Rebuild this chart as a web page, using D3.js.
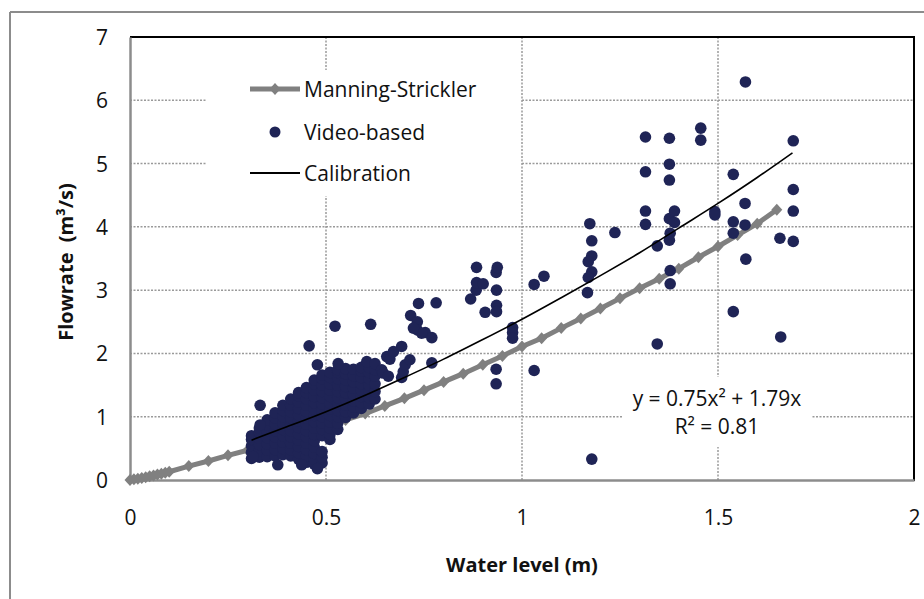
<!DOCTYPE html>
<html>
<head>
<meta charset="utf-8">
<script src="https://cdn.jsdelivr.net/npm/d3@7"></script>
<style>
  html, body { margin: 0; padding: 0; background: #fff; }
  svg { display: block; font-family: "Open Sans", sans-serif; }
</style>
</head>
<body>
<svg id="chart" width="924" height="599"></svg>
<script>
// ---------- data ----------
const xTicks = [0, 0.5, 1, 1.5, 2];
const xTickLabels = ["0", "0.5", "1", "1.5", "2"];
const yTicks = [0, 1, 2, 3, 4, 5, 6, 7];
const yTickLabels = ["0", "1", "2", "3", "4", "5", "6", "7"];

// Manning-Strickler rating curve (water level m, flowrate m3/s)
const manningH = [0, 0.01, 0.02, 0.03, 0.04, 0.05, 0.06, 0.07, 0.08, 0.09, 0.1,
  0.15, 0.2, 0.25, 0.3, 0.35, 0.4, 0.45, 0.5, 0.55, 0.6, 0.65, 0.7, 0.75, 0.8, 0.85,
  0.9, 0.95, 1.0, 1.05, 1.1, 1.15, 1.2, 1.25, 1.3, 1.35, 1.4, 1.45, 1.5, 1.55, 1.6, 1.65];
const manningQ = [0, 0.01, 0.02, 0.03, 0.045, 0.06, 0.07, 0.085, 0.1, 0.115, 0.13,
  0.22, 0.30, 0.39, 0.47, 0.56, 0.66, 0.76, 0.85, 0.95, 1.05, 1.17, 1.29, 1.42, 1.55, 1.68,
  1.82, 1.96, 2.11, 2.24, 2.40, 2.55, 2.71, 2.87, 3.03, 3.18, 3.34, 3.52, 3.69, 3.87, 4.05, 4.27];

// Calibration curve (y = 0.75x^2 + 1.79x)
const calibH = [0.31, 0.4, 0.5, 0.6, 0.7, 0.8, 0.9, 1.0, 1.1, 1.2, 1.3, 1.4, 1.5, 1.6, 1.69];
const calibQ = [0.63, 0.84, 1.08, 1.34, 1.62, 1.91, 2.22, 2.54, 2.88, 3.23, 3.59, 3.98, 4.37, 4.78, 5.17];

// Video-based measurements: dense core (columns of water level with flowrates)
const coreH = [0.31, 0.33, 0.35, 0.37, 0.39, 0.41, 0.43, 0.45, 0.47, 0.49, 0.51, 0.53, 0.55, 0.57, 0.59, 0.61, 0.625];
const coreQ = [
  [0.34, 0.44, 0.54, 0.64, 0.70],
  [0.36, 0.46, 0.56, 0.66, 0.76, 0.82],
  [0.37, 0.47, 0.57, 0.67, 0.77, 0.87, 0.95],
  [0.38, 0.48, 0.58, 0.68, 0.78, 0.88, 0.98, 1.06],
  [0.40, 0.50, 0.60, 0.70, 0.80, 0.90, 1.00, 1.10, 1.18],
  [0.38, 0.48, 0.58, 0.68, 0.78, 0.88, 0.98, 1.08, 1.18, 1.28],
  [0.33, 0.43, 0.53, 0.63, 0.73, 0.83, 0.93, 1.03, 1.13, 1.23, 1.33, 1.38],
  [0.28, 0.38, 0.48, 0.58, 0.68, 0.78, 0.88, 0.98, 1.08, 1.18, 1.28, 1.38, 1.46],
  [0.25, 0.33, 0.42, 0.52, 0.62, 0.72, 0.82, 0.92, 1.02, 1.12, 1.22, 1.32, 1.42, 1.52, 1.58],
  [0.27, 0.36, 0.45, 0.70, 0.80, 0.90, 1.00, 1.10, 1.20, 1.30, 1.40, 1.50, 1.60, 1.66],
  [0.64, 0.72, 0.82, 0.92, 1.02, 1.12, 1.22, 1.32, 1.42, 1.52, 1.62, 1.70],
  [0.80, 0.90, 1.00, 1.10, 1.20, 1.30, 1.40, 1.50, 1.60, 1.70, 1.74],
  [0.99, 1.08, 1.18, 1.28, 1.38, 1.48, 1.58, 1.68, 1.76],
  [1.06, 1.15, 1.25, 1.35, 1.45, 1.55, 1.65, 1.75],
  [1.13, 1.22, 1.32, 1.42, 1.52, 1.62, 1.72, 1.78],
  [1.20, 1.30, 1.40, 1.50, 1.60, 1.70, 1.78],
  [1.28, 1.40, 1.52, 1.64, 1.74]
];

// Video-based measurements: scattered points [water level, flowrate]
const scatterPts = [
  [0.523, 2.43], [0.614, 2.46], [0.457, 2.12], [0.332, 1.18], [0.332, 0.87],
  [0.377, 0.24], [0.438, 0.24], [0.478, 0.18], [0.314, 0.37],
  [0.531, 1.84], [0.478, 1.82], [0.604, 1.87], [0.625, 1.84], [0.642, 1.74],
  [0.646, 1.69], [0.659, 1.64], [0.655, 1.95], [0.663, 1.91], [0.672, 2.03],
  [0.693, 2.11], [0.693, 1.62], [0.697, 1.71], [0.702, 1.82], [0.714, 1.90],
  [0.716, 2.60], [0.733, 2.50], [0.733, 2.37], [0.736, 2.79], [0.753, 2.33],
  [0.770, 2.25], [0.770, 1.85], [0.781, 2.80], [0.744, 2.32], [0.723, 2.40],
  [0.869, 2.86], [0.883, 3.00], [0.884, 3.12], [0.884, 3.36], [0.901, 3.10],
  [0.906, 2.65], [0.934, 3.28], [0.937, 3.36], [0.935, 3.00], [0.935, 2.76],
  [0.935, 2.66], [0.934, 1.75], [0.934, 1.52],
  [0.976, 2.41], [0.976, 2.33], [0.976, 2.24], [1.031, 3.09], [1.056, 3.22], [1.031, 1.73],
  [1.173, 4.05], [1.178, 3.78], [1.178, 3.54], [1.169, 3.45], [1.178, 3.29],
  [1.169, 3.20], [1.167, 2.96], [1.237, 3.91], [1.178, 0.33],
  [1.315, 5.42], [1.315, 4.87], [1.315, 4.25], [1.315, 4.04], [1.376, 5.40],
  [1.376, 4.99], [1.376, 4.74], [1.376, 4.13], [1.389, 4.25], [1.389, 4.07],
  [1.378, 3.90], [1.376, 3.79], [1.345, 3.70], [1.378, 3.31], [1.378, 3.10], [1.345, 2.15],
  [1.456, 5.56], [1.456, 5.37], [1.492, 4.24], [1.492, 4.19], [1.539, 4.83],
  [1.539, 4.08], [1.539, 3.90], [1.539, 2.66], [1.570, 6.29], [1.569, 4.37],
  [1.569, 4.03], [1.571, 3.49], [1.658, 3.82], [1.660, 2.26], [1.692, 5.36],
  [1.692, 4.59], [1.692, 4.25], [1.692, 3.77]
];

const legendLabels = ["Manning-Strickler", "Video-based", "Calibration"];
const equationLines = ["y = 0.75x\u00B2 + 1.79x", "R\u00B2 = 0.81"];

// ---------- drawing ----------
const svg = d3.select("#chart");
const x = d3.scaleLinear().domain([0, 2]).range([130, 914]);
const y = d3.scaleLinear().domain([0, 7]).range([480, 37]);

const gridColor = "#9a9a9a";
const axisGray = "#8c8c8c";
const dotColor = "#1f2456";
const msColor = "#808080";

// outer chart border (cropped)
svg.append("line").attr("x1", 10).attr("x2", 930).attr("y1", 12).attr("y2", 12)
  .attr("stroke", axisGray).attr("stroke-width", 2);
svg.append("line").attr("x1", 10).attr("x2", 10).attr("y1", 12).attr("y2", 610)
  .attr("stroke", axisGray).attr("stroke-width", 2);

// gridlines
const grid = svg.append("g");
grid.selectAll(".hg").data(yTicks.filter(t => t > 0 && t < 7)).join("line")
  .attr("x1", x(0)).attr("x2", x(2)).attr("y1", d => y(d)).attr("y2", d => y(d))
  .attr("stroke", gridColor).attr("stroke-width", 1.5).attr("stroke-dasharray", "2,1.5");
grid.selectAll(".vg").data(xTicks.filter(t => t > 0 && t < 2)).join("line")
  .attr("x1", d => x(d)).attr("x2", d => x(d)).attr("y1", y(7)).attr("y2", y(0))
  .attr("stroke", gridColor).attr("stroke-width", 1.5).attr("stroke-dasharray", "2,1.5");

// plot border: top/right black, left/bottom gray axes
svg.append("line").attr("x1", x(0)).attr("x2", x(2) + 1).attr("y1", y(7)).attr("y2", y(7))
  .attr("stroke", "#000").attr("stroke-width", 2);
svg.append("line").attr("x1", x(2)).attr("x2", x(2)).attr("y1", y(7)).attr("y2", y(0) + 1)
  .attr("stroke", "#000").attr("stroke-width", 2);

// axes
const xAxis = d3.axisBottom(x).tickValues(xTicks).tickFormat((d, i) => xTickLabels[i]).tickSize(0).tickPadding(30);
const yAxis = d3.axisLeft(y).tickValues(yTicks).tickFormat((d, i) => yTickLabels[i]).tickSize(0).tickPadding(22);
const gx = svg.append("g").attr("transform", `translate(0,${y(0)})`).call(xAxis);
const gy = svg.append("g").attr("transform", `translate(${x(0)},0)`).call(yAxis);
[gx, gy].forEach(g => {
  g.select(".domain").attr("stroke", axisGray).attr("stroke-width", 2.5);
  g.selectAll("text").attr("font-family", "Open Sans").attr("font-size", 21).attr("fill", "#111");
});
gy.selectAll("text").attr("dy", "0.36em");

// Manning-Strickler line
const manning = manningH.map((h, i) => [h, manningQ[i]]);
svg.append("path").datum(manning)
  .attr("d", d3.line().x(d => x(d[0])).y(d => y(d[1])))
  .attr("fill", "none").attr("stroke", msColor).attr("stroke-width", 5);
const diamond = "M0,-6L5.5,0L0,6L-5.5,0Z";
svg.append("g").selectAll("path").data(manning).join("path")
  .attr("d", diamond).attr("fill", msColor)
  .attr("transform", d => `translate(${x(d[0])},${y(d[1])})`);

// video-based points
const corePts = coreH.flatMap((h, i) => coreQ[i].map(q => [h, q]));
const allPts = corePts.concat(scatterPts);
svg.append("g").selectAll("circle").data(allPts).join("circle")
  .attr("cx", d => x(d[0])).attr("cy", d => y(d[1])).attr("r", 5.8)
  .attr("fill", dotColor);

// calibration curve
const calib = calibH.map((h, i) => [h, calibQ[i]]);
svg.append("path").datum(calib)
  .attr("d", d3.line().curve(d3.curveMonotoneX).x(d => x(d[0])).y(d => y(d[1])))
  .attr("fill", "none").attr("stroke", "#000").attr("stroke-width", 1.6);

// legend
const lg = svg.append("g");
lg.append("rect").attr("x", 207).attr("y", 70).attr("width", 314).attr("height", 126).attr("fill", "#fff");
const legY = [89, 132, 173];
lg.append("line").attr("x1", 250).attr("x2", 300).attr("y1", legY[0]).attr("y2", legY[0])
  .attr("stroke", msColor).attr("stroke-width", 5);
lg.append("path").attr("d", diamond).attr("fill", msColor).attr("transform", `translate(275,${legY[0]})`);
lg.append("circle").attr("cx", 275).attr("cy", legY[1]).attr("r", 5.5).attr("fill", dotColor);
lg.append("line").attr("x1", 250).attr("x2", 300).attr("y1", legY[2]).attr("y2", legY[2])
  .attr("stroke", "#000").attr("stroke-width", 2);
lg.selectAll("text").data(legendLabels).join("text")
  .attr("x", 304).attr("y", (d, i) => legY[i] + 8)
  .attr("font-size", 21).attr("fill", "#111").text(d => d);

// equation label
const eq = svg.append("g");
eq.append("rect").attr("x", 623).attr("y", 377).attr("width", 189).attr("height", 70).attr("fill", "#fff");
eq.selectAll("text").data(equationLines).join("text")
  .attr("x", 717).attr("y", (d, i) => 406 + i * 28)
  .attr("text-anchor", "middle").attr("font-size", 21).attr("fill", "#111").text(d => d);

// axis titles
svg.append("text").attr("x", 522).attr("y", 572).attr("text-anchor", "middle")
  .attr("font-size", 20).attr("font-weight", "bold").attr("fill", "#111").text("Water level (m)");
svg.append("text").attr("transform", "translate(73,262) rotate(-90)").attr("text-anchor", "middle")
  .attr("font-size", 20).attr("font-weight", "bold").attr("fill", "#111")
  .text("Flowrate\u00A0\u00A0(m\u00B3/s)");
</script>
</body>
</html>
